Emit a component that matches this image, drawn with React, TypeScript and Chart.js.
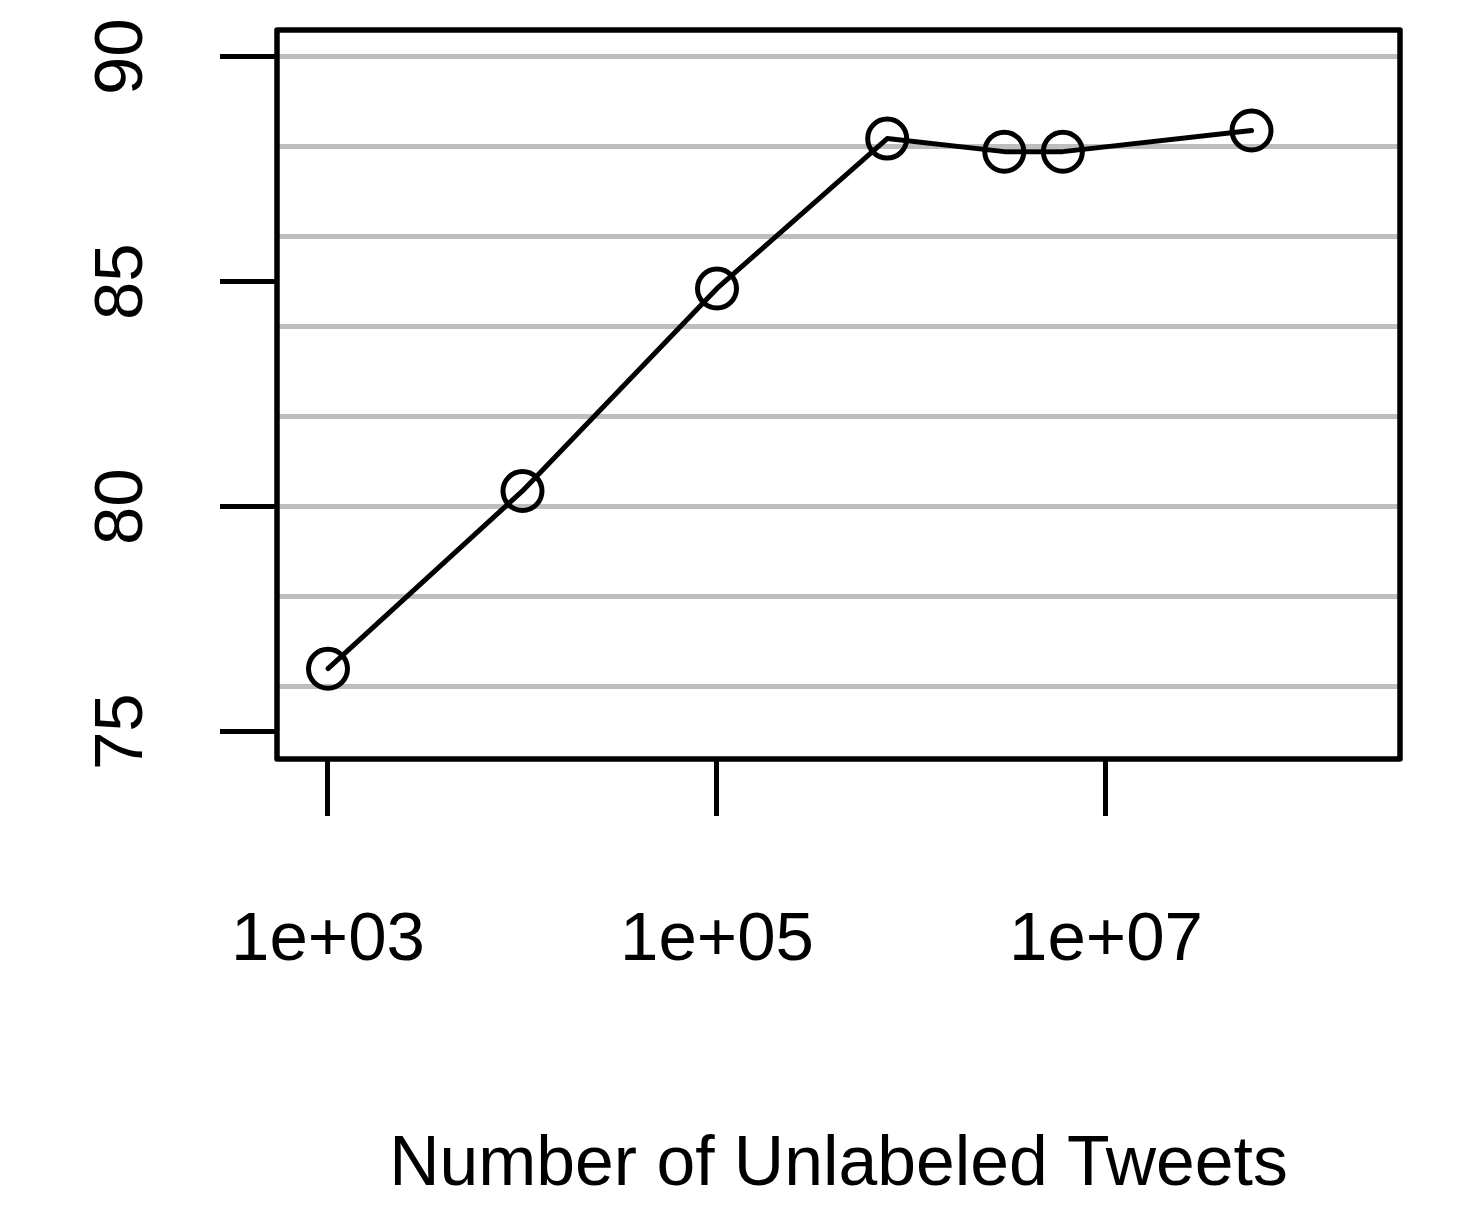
import React, { useEffect, useRef } from 'react';
import { Chart, registerables } from 'chart.js';

Chart.register(...registerables);

// ---- data ----
const X_VALUES = [1e3, 1e4, 1e5, 7.5e5, 3e6, 6e6, 5.6e7];
const Y_VALUES = [76.4, 80.35, 84.85, 88.18, 87.89, 87.89, 88.36];

// ---- axis ticks / labels ----
const X_TICKS = [1e3, 1e5, 1e7];
const X_TICK_LABELS = ['1e+03', '1e+05', '1e+07'];
const Y_LABEL_TICKS = [75, 80, 85, 90];
const Y_GRID_VALUES = [76, 78, 80, 82, 84, 86, 88, 90];
const X_TITLE = 'Number of Unlabeled Tweets';

const X_MIN = Math.pow(10, 2.7378);
const X_MAX = Math.pow(10, 8.5116);
const Y_MIN = 74.393;
const Y_MAX = 90.593;

const FONT_FAMILY = '"Liberation Sans", Arial, Helvetica, sans-serif';
const FONT_SIZE = 69;
const TITLE_SIZE = 69.7;

const Y_ALL_TICKS = Array.from(new Set([...Y_LABEL_TICKS, ...Y_GRID_VALUES])).sort((a, b) => a - b);

const framePlugin = {
  id: 'frame',
  beforeDatasetsDraw(chart: any) {
    const { ctx, chartArea } = chart;
    const { left, top, right, bottom } = chartArea;
    ctx.save();
    ctx.strokeStyle = '#000';
    ctx.lineWidth = 5.5;
    ctx.lineJoin = 'round';
    ctx.strokeRect(left, top, right - left, bottom - top);
    ctx.restore();
  },
};

export default function App() {
  const ref = useRef<HTMLCanvasElement>(null);

  useEffect(() => {
    const canvas = ref.current;
    if (!canvas) return;
    const chart = new Chart(canvas, {
      type: 'line',
      data: {
        datasets: [
          {
            data: X_VALUES.map((x, i) => ({ x, y: Y_VALUES[i] })),
            borderColor: '#000',
            borderWidth: 5,
            borderCapStyle: 'round',
            borderJoinStyle: 'round',
            tension: 0,
            pointRadius: 19.5,
            pointBorderWidth: 5,
            pointBorderColor: '#000',
            pointBackgroundColor: 'rgba(0,0,0,0)',
            pointStyle: 'circle',
            fill: false,
          },
        ],
      },
      options: {
        responsive: false,
        animation: false,
        devicePixelRatio: 1,
        layout: { padding: { top: 30, right: 74, left: 0, bottom: 0 } },
        plugins: {
          legend: { display: false },
          tooltip: { enabled: false },
        },
        scales: {
          x: {
            type: 'logarithmic',
            position: 'bottom',
            min: X_MIN,
            max: X_MAX,
            bounds: 'data',
            afterBuildTicks: (scale: any) => {
              scale.ticks = X_TICKS.map((v) => ({ value: v }));
            },
            afterFit: (scale: any) => {
              scale.height = 450;
              scale.paddingLeft = 0;
              scale.paddingRight = 0;
            },
            border: { display: false },
            grid: {
              display: true,
              drawOnChartArea: false,
              drawTicks: true,
              tickLength: 57,
              tickColor: '#000',
              tickWidth: 5,
            },
            ticks: {
              autoSkip: false,
              maxRotation: 0,
              minRotation: 0,
              padding: 84,
              color: '#000',
              font: { family: FONT_FAMILY, size: FONT_SIZE },
              callback: (_v: any, i: number) => X_TICK_LABELS[i],
            },
            title: {
              display: true,
              text: X_TITLE,
              color: '#000',
              font: { family: FONT_FAMILY, size: TITLE_SIZE },
              padding: { top: 0, bottom: 1 },
            },
          },
          y: {
            type: 'linear',
            position: 'left',
            min: Y_MIN,
            max: Y_MAX,
            bounds: 'data',
            afterBuildTicks: (scale: any) => {
              scale.ticks = Y_ALL_TICKS.map((v) => ({ value: v }));
            },
            afterFit: (scale: any) => {
              scale.width = 277;
              scale.paddingTop = 0;
              scale.paddingBottom = 0;
            },
            border: { display: false },
            grid: {
              display: true,
              drawOnChartArea: true,
              drawTicks: true,
              tickLength: 57,
              color: (ctx: any) =>
                ctx.tick && Y_GRID_VALUES.includes(ctx.tick.value) ? '#bebebe' : 'rgba(0,0,0,0)',
              lineWidth: 5,
              tickColor: (ctx: any) =>
                ctx.tick && Y_LABEL_TICKS.includes(ctx.tick.value) ? '#000' : 'rgba(0,0,0,0)',
              tickWidth: 5,
            },
            ticks: {
              autoSkip: false,
              minRotation: 90,
              maxRotation: 90,
              crossAlign: 'center',
              padding: 59,
              color: '#000',
              font: { family: FONT_FAMILY, size: FONT_SIZE },
              callback: (v: any) => (Y_LABEL_TICKS.includes(Number(v)) ? String(v) : ''),
            },
          },
        },
      },
      plugins: [framePlugin],
    } as any);
    return () => chart.destroy();
  }, []);

  return (
    <div style={{ position: 'absolute', left: 0, top: 0, width: 1474, height: 1209, background: '#fff' }}>
      <canvas ref={ref} width={1474} height={1209} style={{ display: 'block' }} />
    </div>
  );
}
